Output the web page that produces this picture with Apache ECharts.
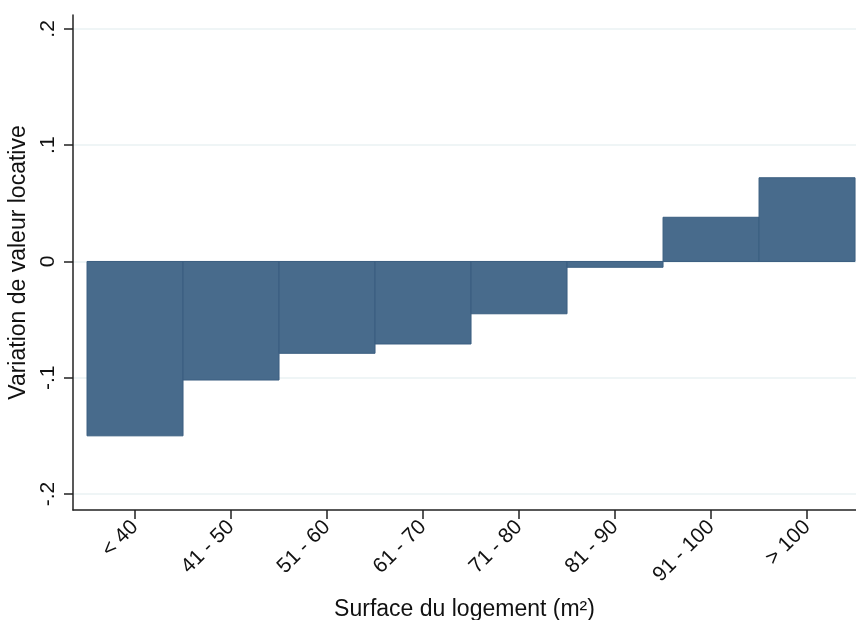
<!DOCTYPE html>
<html>
<head>
<meta charset="utf-8">
<script src="https://cdn.jsdelivr.net/npm/echarts@6/dist/echarts.min.js"></script>
<style>
  html, body { margin: 0; padding: 0; background: #fff; }
  #chart { width: 856px; height: 620px; }
</style>
</head>
<body>
<div id="chart"></div>
<script>
const categories = ['< 40', '41 - 50', '51 - 60', '61 - 70', '71 - 80', '81 - 90', '91 - 100', '> 100']
const values = [-0.150, -0.102, -0.079, -0.071, -0.045, -0.005, 0.038, 0.072]
const yTicks = [-0.2, -0.1, 0, 0.1, 0.2]
const xTicks = [1, 2, 3, 4, 5, 6, 7, 8]

const fontFamily = '"Liberation Sans", Arial, sans-serif'

const chart = echarts.init(document.getElementById('chart'))

function yLabel (v) {
  if (Math.abs(v) < 1e-9) return '0'
  const s = (Math.round(v * 10) / 10).toString()
  return s.replace('0.', '.')
}

const option = {
  animation: false,
  grid: { left: 73, right: 0, top: 15, bottom: 110, outerBoundsMode: 'none', containLabel: false },
  xAxis: {
    type: 'value',
    min: 0.354,
    max: 8.51,
    name: 'Surface du logement (m²)',
    nameLocation: 'middle',
    nameGap: 88,
    nameTextStyle: { fontSize: 23, color: '#111', fontFamily },
    axisLine: { show: true, onZero: false, lineStyle: { color: '#222', width: 1.5 } },
    axisTick: { show: true, length: 9, customValues: xTicks, lineStyle: { color: '#222', width: 1.5 } },
    axisLabel: {
      customValues: xTicks,
      rotate: 45,
      margin: 14,
      fontSize: 21,
      color: '#111',
      fontFamily,
      formatter: v => categories[Math.round(v) - 1] || ''
    },
    splitLine: { show: false }
  },
  yAxis: {
    type: 'value',
    min: -0.2138,
    max: 0.212,
    name: 'Variation de valeur locative',
    nameLocation: 'middle',
    nameGap: 43,
    nameRotate: 90,
    nameTextStyle: { fontSize: 23, color: '#111', fontFamily },
    axisLine: { show: true, lineStyle: { color: '#222', width: 1.5 } },
    axisTick: { show: true, length: 9, customValues: yTicks, lineStyle: { color: '#222', width: 1.5 } },
    axisLabel: {
      customValues: yTicks,
      rotate: 90,
      margin: 14,
      fontSize: 21,
      color: '#111',
      fontFamily,
      formatter: yLabel
    },
    splitLine: { show: true, lineStyle: { color: '#EAF2F3', width: 1.5 } }
  },
  series: [
    {
      type: 'custom',
      data: values.map((v, i) => [xTicks[i], v]),
      encode: { x: 0, y: 1 },
      renderItem: (params, api) => {
        const x = api.value(0)
        const y = api.value(1)
        const p0 = api.coord([x - 0.5, 0])
        const p1 = api.coord([x + 0.5, y])
        return {
          type: 'rect',
          shape: {
            x: p0[0],
            y: Math.min(p0[1], p1[1]),
            width: p1[0] - p0[0],
            height: Math.abs(p1[1] - p0[1])
          },
          style: { fill: '#486B8C', stroke: '#3A5E80', lineWidth: 1 }
        }
      }
    }
  ]
}

chart.setOption(option)
</script>
</body>
</html>
